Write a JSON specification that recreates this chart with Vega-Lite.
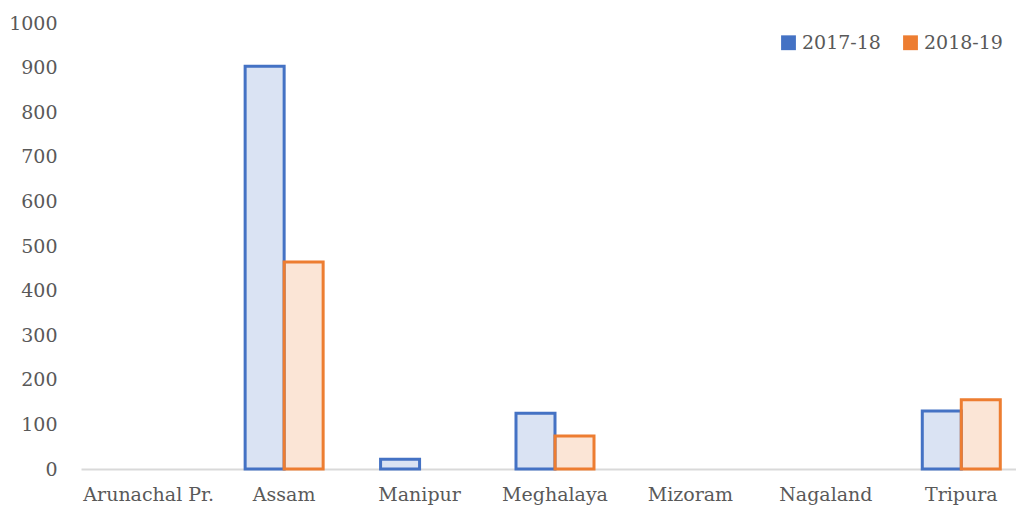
{
  "$schema": "https://vega.github.io/schema/vega-lite/v6.json",
  "width": 948,
  "height": 446,
  "autosize": {"type": "none"},
  "padding": {"left": 81, "top": 23, "right": 0, "bottom": 45},
  "background": "white",
  "config": {
    "view": {"stroke": null}
  },
  "data": {
    "values": [
      {"state": "Assam", "year": "2017-18", "value": 903},
      {"state": "Assam", "year": "2018-19", "value": 464},
      {"state": "Manipur", "year": "2017-18", "value": 22},
      {"state": "Meghalaya", "year": "2017-18", "value": 125},
      {"state": "Meghalaya", "year": "2018-19", "value": 74},
      {"state": "Tripura", "year": "2017-18", "value": 130},
      {"state": "Tripura", "year": "2018-19", "value": 155}
    ]
  },
  "mark": {"type": "bar", "strokeWidth": 3, "fillOpacity": 0.2, "strokeOpacity": 1},
  "encoding": {
    "x": {
      "field": "state",
      "type": "nominal",
      "sort": ["Arunachal Pr.", "Assam", "Manipur", "Meghalaya", "Mizoram", "Nagaland", "Tripura"],
      "scale": {"domain": ["Arunachal Pr.", "Assam", "Manipur", "Meghalaya", "Mizoram", "Nagaland", "Tripura"], "paddingInner": 0.424, "paddingOuter": 0.212},
      "axis": {"title": null, "labelAngle": 0, "ticks": false, "domainColor": "#d9d9d9", "domainWidth": 2, "labelPadding": 16, "labelFont": "DejaVu Serif", "labelFontSize": 19, "labelColor": "#595959"}
    },
    "xOffset": {"field": "year", "type": "nominal", "scale": {"paddingInner": 0, "paddingOuter": 0}},
    "y": {
      "field": "value",
      "type": "quantitative",
      "scale": {"domain": [0, 1000], "nice": false},
      "axis": {"title": null, "format": "d", "values": [0, 100, 200, 300, 400, 500, 600, 700, 800, 900, 1000], "grid": false, "domain": false, "ticks": false, "labelPadding": 24, "labelFont": "DejaVu Serif", "labelFontSize": 19, "labelColor": "#595959"}
    },
    "stroke": {
      "field": "year",
      "type": "nominal",
      "scale": {"domain": ["2017-18", "2018-19"], "range": ["#4472c4", "#ed7d31"]},
      "legend": null
    },
    "color": {
      "field": "year",
      "type": "nominal",
      "scale": {"domain": ["2017-18", "2018-19"], "range": ["#4472c4", "#ed7d31"]},
      "legend": {
        "title": null,
        "orient": "none",
        "legendX": 698,
        "legendY": 10,
        "direction": "horizontal",
        "symbolType": "square",
        "symbolSize": 220,
        "symbolOpacity": 1,
        "symbolStrokeWidth": 0,
        "columnPadding": 20,
        "labelOffset": 4,
        "labelFont": "DejaVu Serif",
        "labelFontSize": 19,
        "labelColor": "#595959"
      }
    }
  }
}
